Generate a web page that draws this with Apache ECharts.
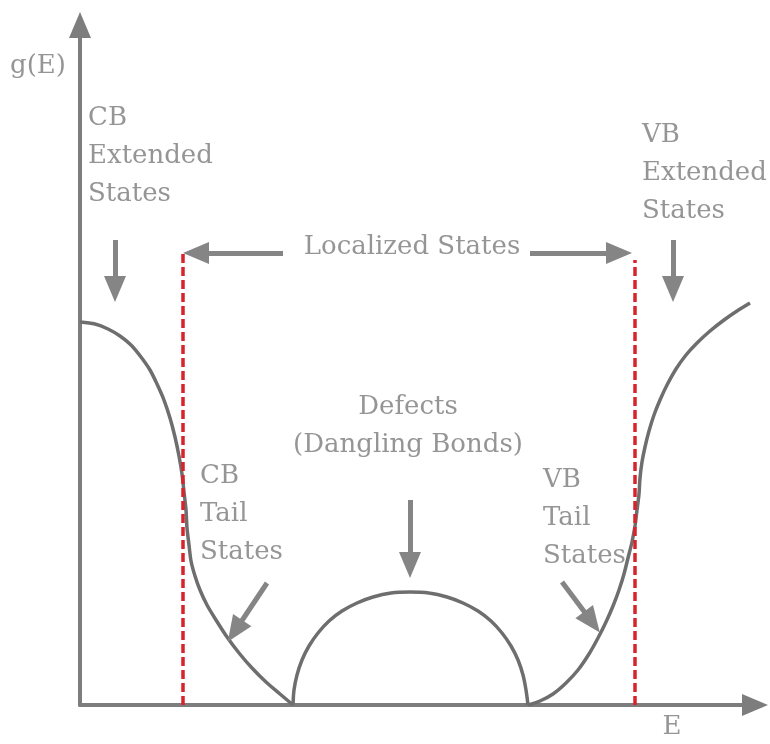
<!DOCTYPE html>
<html>
<head>
<meta charset="utf-8">
<script src="https://cdn.jsdelivr.net/npm/echarts@6/dist/echarts.min.js"></script>
<style>
  html, body { margin: 0; padding: 0; background: #fff; }
  #chart { width: 770px; height: 744px; }
</style>
</head>
<body>
<div id="chart"></div>
<script>
// g(E) curve (E and g in arbitrary units)
const cbTail = [
  [0, 3.83], [0.15, 3.81], [0.28, 3.76], [0.40, 3.69], [0.51, 3.60],
  [0.61, 3.48], [0.70, 3.35], [0.77, 3.21], [0.84, 3.05], [0.90, 2.87],
  [0.95, 2.68], [0.99, 2.49], [1.02, 2.31], [1.04, 2.13], [1.06, 1.95],
  [1.07, 1.77], [1.09, 1.60], [1.11, 1.44], [1.15, 1.29], [1.20, 1.15],
  [1.27, 1.00], [1.36, 0.85], [1.47, 0.68], [1.59, 0.52], [1.72, 0.37],
  [1.86, 0.23], [2.00, 0.11], [2.13, 0]
];
const defectBand = [
  [2.13, 0], [2.14, 0.15], [2.17, 0.30], [2.22, 0.45], [2.29, 0.59],
  [2.38, 0.72], [2.49, 0.84], [2.62, 0.94], [2.77, 1.02], [2.93, 1.08],
  [3.11, 1.12], [3.30, 1.13], [3.49, 1.12], [3.67, 1.08], [3.83, 1.02],
  [3.98, 0.94], [4.11, 0.84], [4.22, 0.72], [4.31, 0.59], [4.38, 0.45],
  [4.43, 0.30], [4.46, 0.15], [4.48, 0]
];
const vbTail = [
  [4.48, 0], [4.60, 0.04], [4.73, 0.11], [4.86, 0.22], [4.98, 0.35],
  [5.09, 0.51], [5.18, 0.67], [5.26, 0.83], [5.33, 0.99], [5.39, 1.15],
  [5.44, 1.31], [5.48, 1.47], [5.52, 1.63], [5.55, 1.79], [5.57, 1.95],
  [5.59, 2.11], [5.60, 2.27], [5.62, 2.43], [5.65, 2.58], [5.69, 2.74],
  [5.74, 2.90], [5.80, 3.05], [5.87, 3.20], [5.96, 3.36], [6.06, 3.50],
  [6.17, 3.62], [6.30, 3.74], [6.44, 3.85], [6.57, 3.94], [6.70, 4.02]
];

// mobility edges (red dashed lines)
const edgeE = [1.03, 5.55];
const edgeTop = [4.53, 4.45];

// annotation arrows: [fromE, fromG, toE, toG]
const arrows = [
  [0.35, 4.65, 0.35, 4.16],
  [2.03, 4.52, 1.16, 4.52],
  [4.50, 4.52, 5.39, 4.52],
  [5.93, 4.65, 5.93, 4.16],
  [3.30, 2.05, 3.30, 1.40],
  [1.87, 1.22, 1.55, 0.74],
  [4.82, 1.23, 5.12, 0.83]
];

// text labels
const labelText = [
  'g(E)', 'CB\nExtended\nStates', 'VB\nExtended\nStates', 'Localized States',
  'Defects\n(Dangling Bonds)', 'CB\nTail\nStates', 'VB\nTail\nStates', 'E'
];
const labelPos = [
  [-0.70, 6.39], [0.08, 5.49], [5.62, 5.32], [3.32, 4.58],
  [3.28, 2.79], [1.20, 1.91], [4.63, 1.87], [5.92, -0.22]
];
const labelAlign = ['left', 'left', 'left', 'center', 'center', 'left', 'left', 'center'];

const curveStyle = { color: '#6e6e6e', width: 3.5 };
const edgeStyle = { color: '#d8232a', width: 3.5, type: [9, 4] };

var chart = echarts.init(document.getElementById('chart'));

var series = [
  { type: 'line', data: cbTail, smooth: 0.3, symbol: 'none', lineStyle: curveStyle, z: 2 },
  { type: 'line', data: defectBand, smooth: 0.3, symbol: 'none', lineStyle: curveStyle, z: 2 },
  { type: 'line', data: vbTail, smooth: 0.3, symbol: 'none', lineStyle: curveStyle, z: 2 }
];

edgeE.forEach(function (e, i) {
  series.push({
    type: 'line',
    data: [[e, 0], [e, edgeTop[i]]],
    symbol: 'none',
    lineStyle: edgeStyle,
    z: 3
  });
});

// arrows via markLine so they sit on the axes' scale
series.push({
  type: 'line',
  data: [],
  markLine: {
    silent: true,
    animation: false,
    symbol: ['none', 'triangle'],
    symbolSize: [22, 26],
    label: { show: false },
    lineStyle: { color: '#858585', width: 5, type: 'solid' },
    data: arrows.map(function (a) {
      return [{ coord: [a[0], a[1]] }, { coord: [a[2], a[3]] }];
    })
  },
  z: 4
});

series.push({
  type: 'scatter',
  symbolSize: 0,
  clip: false,
  silent: true,
  data: labelText.map(function (t, i) {
    return {
      name: t,
      value: labelPos[i],
      label: { align: labelAlign[i] }
    };
  }),
  label: {
    show: true,
    position: 'inside',
    formatter: '{b}',
    verticalAlign: 'middle',
    fontFamily: 'DejaVu Serif',
    fontSize: 26,
    lineHeight: 38,
    color: '#7a7a7a'
  },
  z: 5
});

var axisLine = {
  show: true,
  onZero: false,
  symbol: ['none', 'triangle'],
  symbolSize: [22, 26],
  lineStyle: { color: '#7d7d7d', width: 4 }
};

var option = {
  animation: false,
  backgroundColor: '#fff',
  grid: { left: 80, right: 15, top: 25, bottom: 39 },
  xAxis: {
    type: 'value',
    min: 0,
    max: 6.75,
    axisLine: axisLine,
    axisTick: { show: false },
    axisLabel: { show: false },
    splitLine: { show: false }
  },
  yAxis: {
    type: 'value',
    min: 0,
    max: 6.80,
    axisLine: axisLine,
    axisTick: { show: false },
    axisLabel: { show: false },
    splitLine: { show: false }
  },
  series: series
};

chart.setOption(option);
</script>
</body>
</html>
